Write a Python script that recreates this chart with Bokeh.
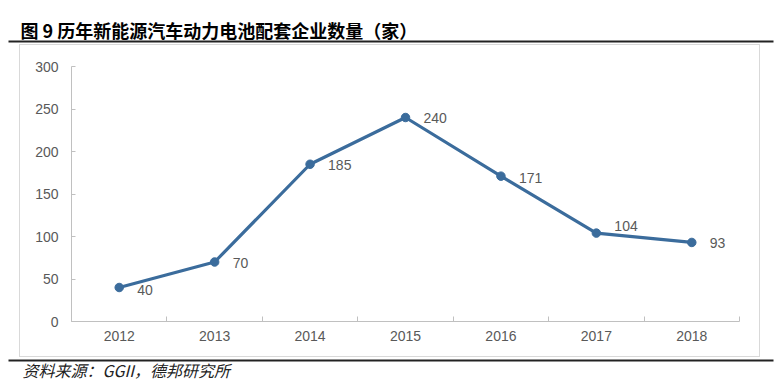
import numpy as np
from bokeh.plotting import figure
from bokeh.layouts import column, row
from bokeh.models import Range1d, FixedTicker, Label, BoxAnnotation, ColumnDataSource
from bokeh.core.properties import value
from bokeh.embed import file_html
from bokeh.resources import INLINE

years = ["2012", "2013", "2014", "2015", "2016", "2017", "2018"]
counts = [40, 70, 185, 240, 171, 104, 93]
label_dy = [2, 1, 1, 0, 2, -7, 1]
y_ticks = [0, 50, 100, 150, 200, 250, 300]

title_text = "图 9 历年新能源汽车动力电池配套企业数量（家）"
source_text = "资料来源：GGII，德邦研究所"

PAGE_W = 782
LINE_COLOR = "#3b6c9c"
AXIS_COLOR = "#c0c0c0"
TEXT_COLOR = "#595959"


def strip_fig(h):
    f = figure(width=PAGE_W, height=h, output_backend="svg", toolbar_location=None,
               x_range=Range1d(0, PAGE_W), y_range=Range1d(h, 0),
               x_axis_location=None, y_axis_location=None,
               min_border=0, min_border_left=0, min_border_right=0,
               min_border_top=0, min_border_bottom=0)
    f.outline_line_color = None
    f.grid.grid_line_color = None
    f.background_fill_color = "white"
    f.border_fill_color = "white"
    return f


# header: title + black rule
head = strip_fig(43)
head.add_layout(Label(x=20, y=29, text=title_text,
                      text_font="Noto Sans CJK SC", text_font_style="bold", text_font_size="18px",
                      text_color="black", text_baseline="middle", text_align="left"))
head.add_layout(BoxAnnotation(left=8, right=773, top=40, bottom=42,
                              fill_color="#222222", fill_alpha=1, line_alpha=0))

# main chart
xs = np.arange(len(years)) + 0.5
p = figure(width=741, height=313, output_backend="svg", toolbar_location=None,
           x_range=Range1d(0, len(years)), y_range=Range1d(0, 300),
           min_border_left=51, min_border_right=22, min_border_top=21, min_border_bottom=37,
           styles={"border": "1px solid #d9d9d9"})
p.margin = (1, 0, 0, 19)
p.outline_line_color = None
p.grid.grid_line_color = None
p.background_fill_color = "white"
p.border_fill_color = "white"

src = ColumnDataSource(dict(x=xs, y=counts, lab=[str(c) for c in counts], dy=label_dy))
p.line("x", "y", source=src, line_color=LINE_COLOR, line_width=3.2)
p.scatter("x", "y", source=src, size=8.5, fill_color=LINE_COLOR, line_color=LINE_COLOR)
p.text("x", "y", text="lab", source=src, x_offset=18, y_offset="dy",
       text_align="left", text_baseline="middle", text_font_size="14px",
       text_color=TEXT_COLOR, text_font=value("Liberation Sans"))

xa = p.xaxis[0]
xa.ticker = FixedTicker(ticks=list(xs), minor_ticks=list(range(len(years) + 1)))
xa.major_label_overrides = {float(x): y for x, y in zip(xs, years)}
xa.major_tick_in = 0
xa.major_tick_out = 0
xa.minor_tick_in = 5
xa.minor_tick_out = 0
xa.minor_tick_line_color = AXIS_COLOR
xa.axis_line_color = AXIS_COLOR
xa.major_label_standoff = 9

ya = p.yaxis[0]
ya.ticker = FixedTicker(ticks=y_ticks)
ya.major_tick_in = 4
ya.major_tick_out = 0
ya.minor_tick_line_color = None
ya.major_tick_line_color = AXIS_COLOR
ya.axis_line_color = AXIS_COLOR
ya.major_label_standoff = 13

for ax in (xa, ya):
    ax.major_label_text_font = "Liberation Sans"
    ax.major_label_text_font_size = "14px"
    ax.major_label_text_color = TEXT_COLOR

# footer: black rule + source
foot = strip_fig(24)
foot.add_layout(BoxAnnotation(left=8, right=773, top=2, bottom=4,
                              fill_color="#222222", fill_alpha=1, line_alpha=0))
foot.add_layout(Label(x=22, y=12, text=source_text,
                      text_font="Noto Sans CJK SC", text_font_style="italic", text_font_size="16px",
                      text_color="#222222", text_baseline="middle", text_align="left"))

layout = column(row(head), p, row(foot), spacing=0)
open("out.html", "w").write(file_html(layout, INLINE))
